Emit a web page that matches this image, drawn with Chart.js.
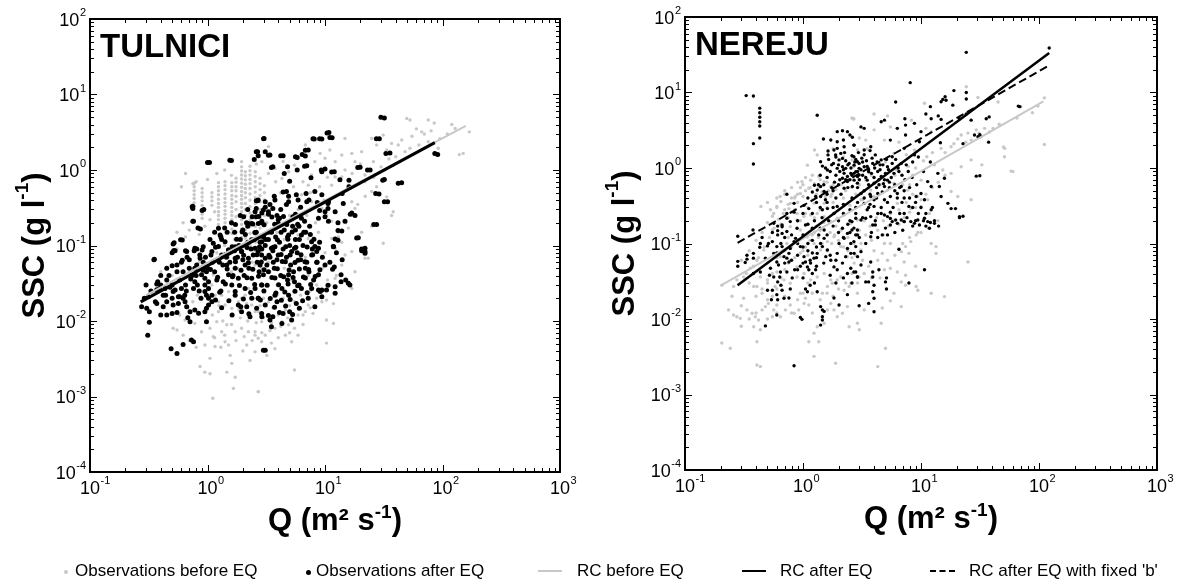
<!DOCTYPE html>
<html lang="en">
<head>
  <meta charset="UTF-8" />
  <title>SSC - Q rating curves, Tulnici and Nereju</title>
  <script src="https://cdn.jsdelivr.net/npm/chart.js"></script>
  <style>
    body { margin: 0; background: #fff; width: 1177px; height: 586px; overflow: hidden; position: relative;
           font-family: "Liberation Sans", Arial, sans-serif; color: #000; }
    canvas { position: absolute; top: 0; }
    #cLeft { left: 0; }
    #cRight { left: 590px; }
    .lg-text { position: absolute; top: 561px; font-size: 17px; line-height: 20px; white-space: nowrap; }
    .lg-mark { position: absolute; }
  </style>
</head>
<body>

  <canvas id="cLeft" width="590" height="586"></canvas>
  <canvas id="cRight" width="587" height="586"></canvas>

  <!-- legend shared by both panels -->
  <div id="legend"></div>

  <script>
    // axis decades (10^n)
    const xTickExps = [-1, 0, 1, 2, 3];
    const yTickExps = [-4, -3, -2, -1, 0, 1, 2];
    const panelNames = ['TULNICI', 'NEREJU'];
    const legendLabels = ['Observations before EQ', 'Observations after EQ', 'RC before EQ', 'RC after EQ', "RC after EQ with fixed 'b'"];

    // TULNICI: [Q, SSC]
    const tulBefore = [
      [0.77,0.67],[0.77,0.6],[0.77,0.53],[0.77,0.47],[0.77,0.42],[0.77,0.37],[0.77,0.33],
      [0.9,0.57],[0.9,0.5],[0.9,0.44],[0.9,0.39],[0.9,0.34],[0.9,0.3],[0.9,0.26],[0.9,0.23],
      [1.09,0.5],[1.09,0.44],[1.09,0.39],[1.09,0.34],
      [1.24,0.68],[1.24,0.6],[1.24,0.53],[1.24,0.47],[1.24,0.41],[1.24,0.36],[1.24,0.32],[1.24,0.28],[1.24,0.25],[1.24,0.22],[1.24,0.19],
      [1.41,0.7],[1.41,0.62],[1.41,0.55],[1.41,0.48],[1.41,0.42],[1.41,0.37],[1.41,0.33],[1.41,0.29],[1.41,0.26],[1.41,0.23],[1.41,0.2],
      [1.61,0.68],[1.61,0.6],[1.61,0.53],[1.61,0.46],[1.61,0.41],[1.61,0.36],[1.61,0.32],[1.61,0.28],[1.61,0.25],[1.61,0.22],[1.61,0.19],[1.61,0.165],[1.61,0.145],
      [1.75,0.78],[1.75,0.69],[1.75,0.6],[1.75,0.53],[1.75,0.45],[1.75,0.38],[1.75,0.3],[1.75,0.24],[1.75,0.19],[1.75,0.15],[1.75,0.124],
      [1.95,1.1],[1.95,0.97],[1.95,0.86],[1.95,0.76],[1.95,0.67],[1.95,0.59],[1.95,0.52],[1.95,0.46],[1.95,0.41],[1.95,0.36],[1.95,0.32],[1.95,0.28],[1.95,0.25],[1.95,0.22],[1.95,0.19],[1.95,0.165],[1.95,0.145],[1.95,0.128],
      [2.1,0.95],[2.1,0.84],[2.1,0.74],[2.1,0.65],[2.1,0.57],[2.1,0.5],[2.1,0.43],[2.1,0.36],[2.1,0.3],[2.1,0.25],[2.1,0.2],[2.1,0.16],[2.1,0.125],
      [2.3,1.12],[2.3,0.98],[2.3,0.86],[2.3,0.75],[2.3,0.66],[2.3,0.57],[2.3,0.48],[2.3,0.4],[2.3,0.33],[2.3,0.27],[2.3,0.22],[2.3,0.18],[2.3,0.145],[2.3,0.115],[2.3,0.1],
      [2.55,0.95],[2.55,0.82],[2.55,0.7],[2.55,0.6],[2.55,0.51],[2.55,0.43],[2.55,0.36],[2.55,0.29],[2.55,0.23],[2.55,0.18],[2.55,0.14],[2.55,0.11],[2.55,0.085],
      [2.8,0.78],[2.8,0.66],[2.8,0.55],[2.8,0.46],[2.8,0.38],[2.8,0.3],[2.8,0.23],[2.8,0.17],[2.8,0.13],[2.8,0.1],
      [3.05,0.62],[3.05,0.5],[3.05,0.4],[3.05,0.32],[3.05,0.25],
      [0.75,0.66],[0.62,0.2],[0.55,0.15],[1.95,1.29],[0.65,0.9],[0.8,0.7],
      [3.3,2.04],[2.9,1.29],[3.75,1.05],[4.3,0.77],[4.9,0.95],[5.5,1.16],[6.3,1.58],[6.8,2.14],[7.7,0.86],[8.2,1.29],
      [9.1,1.66],[10,1.43],[11,1.84],[12.2,1.29],[13.9,1.58],[14.8,2.62],[16.9,1.66],[18,1.29],[20.5,1.75],[21.9,0.86],
      [25,2.62],[25.8,1.29],[27.5,2.14],[31.3,2.9],[33.5,1.84],[36.9,2.25],[38.1,1.16],[42,2.14],[49.6,4.8],[52.9,4.6],
      [48,1.75],[52.9,1.94],[63,2.14],[66.5,3.2],[75.7,4.6],[75.7,2.37],[92,1.94],[128,3.55],[150,1.66],[169,3.2],[139,1.6],
      [21.9,0.7],[25,0.52],[27.5,0.6],[33.5,0.44],[38.1,0.28],[36.9,0.25],[31.3,0.107],[25,0.18],[20.5,0.15],[16.9,0.38],
      [18,0.31],[13,0.47],[11.4,0.63],[15.8,0.63],[13.9,0.81],[14.8,1.0],[12.2,0.81],[7.2,0.63],[6.3,0.47],[7.7,0.38],
      [9.4,0.31],[10.3,0.25],[11.4,0.21],[15.8,0.17],[13.9,0.11],[11.4,0.124],[13,0.15],[8.8,0.15],[7.2,0.124],[5.9,0.138],
      [0.55,0.0076],[0.51,0.008],[0.644,0.0103],[0.78,0.0093],[0.89,0.0072],[1.05,0.008],[1.12,0.0062],[1.16,0.0046],[1.2,0.0098],[1.32,0.0072],
      [1.41,0.0053],[1.51,0.0048],[1.56,0.0035],[1.61,0.00275],[0.95,0.0048],[1.05,0.0032],[0.865,0.0025],[0.95,0.0021],[1.05,0.002],[1.46,0.0021],
      [1.72,0.0018],[1.66,0.00128],[2.71,0.00116],[1.11,0.00095],[1.95,0.008],[2.23,0.0072],[2.54,0.0065],[2.89,0.0053],[2.54,0.0039],[2.16,0.0048],
      [1.72,0.0072],[1.46,0.0089],[1.24,0.0133],[1.41,0.0163],[1.61,0.0147],[1.83,0.018],[2.09,0.022],[2.38,0.0163],[2.71,0.0133],[2.89,0.0098],
      [1.32,0.022],[1.51,0.0245],[1.61,0.03],[1.83,0.03],[1.95,0.02],[2.23,0.027],[2.54,0.0133],[1.24,0.018],[1.16,0.022],[1.09,0.03],
      [1.12,0.041],[2.54,0.055],[2.89,0.05],
      [2.54,0.0072],[2.7,0.0059],[3.1,0.0065],[3.75,0.008],[4.3,0.0098],[4.9,0.0089],[5.5,0.008],[5.9,0.012],[6.8,0.0133],[7.2,0.0163],
      [7.9,0.0126],[9.4,0.018],[10.3,0.019],[11.8,0.017],[10.3,0.0103],[11.8,0.0093],[10.3,0.0051],[12.2,0.092],[14.8,0.075],[16.9,0.083],
      [18,0.045],[21.9,0.068],[23.3,0.068],[13.9,0.055],[16.9,0.027],[12.2,0.0367],[5.5,0.00224],[2.7,0.00116],[3.75,0.0043],[3.5,0.0051],
      [4.6,0.0065],[5.2,0.0053],[5.9,0.0065],
      [1.3,0.06],[1.5,0.07],[1.8,0.05],[2.1,0.04],[2.4,0.06],[1.6,0.045],[1.2,0.08],[1.0,0.05],[0.85,0.06],[0.7,0.045],
      [0.6,0.035],[3.3,0.06],[3.8,0.1],[4.5,0.12],[1.4,0.1],[1.7,0.12],[2.2,0.09],[0.4,0.045],[0.45,0.03],[0.5,0.04],[0.35,0.025],
      [3.2,0.2],[3.5,0.3],[3.9,0.15],[4.2,0.5],[4.6,0.35],[5.0,0.25],[5.4,0.6],[5.9,0.3],[6.5,0.7],[7.0,0.25],
      [7.5,0.5],[8.3,0.2],[9.0,0.6],[9.8,0.4],[10.5,0.8],[3.4,0.045],[3.9,0.03],[4.5,0.05],[5.2,0.035],[6.0,0.05],
      [6.8,0.07],[7.5,0.025],[8.5,0.03],[9.5,0.05],[10.5,0.035],[3.0,0.02],[3.6,0.015],[4.4,0.02],[5.0,0.016],[6.2,0.022],
      [1.2,0.9],[1.4,1.0],[1.6,0.85],[1.0,0.75],[2.6,1.2],[3.3,0.9],[3.8,0.7],[4.4,1.3],[0.6,0.6],[0.55,0.09],
      [0.65,0.13],[0.7,0.16],[0.85,0.14],[0.95,0.18],[1.05,0.22],[1.15,0.28],[0.62,0.0065],[0.7,0.0055],[0.8,0.0045],[0.58,0.012],
      [0.68,0.015],[0.75,0.018],[0.82,0.022],[1.3,0.0045],[2.0,0.004],[2.3,0.003],[3.2,0.0035],[4.0,0.006],[5.0,0.007],[6.5,0.009],
      [1.1,0.012],[1.35,0.01],[1.6,0.009],[1.9,0.011],[2.2,0.01],[2.6,0.0095],[3.0,0.011],[3.5,0.0095],[4.0,0.012],[4.8,0.011],
      [1.25,0.016],[1.55,0.019],[1.85,0.014],[2.15,0.017],[2.45,0.02],[2.8,0.016],[3.3,0.018],[3.9,0.022],[4.6,0.014],[5.5,0.018],
      [1.15,0.006],[1.4,0.0065],[1.75,0.0055],[2.05,0.0062],[2.4,0.0055],[2.9,0.007],[3.4,0.0075],[4.2,0.0085],[5.2,0.01],[6.5,0.012],
      [7.5,0.015],[8.5,0.02],[9.5,0.025],[11,0.03],[12.5,0.04],[6.2,0.03],[7.2,0.04],[8.8,0.06],[10,0.08],[11.5,0.1],
      [13,0.13],[15,0.2],[17,0.25],[19,0.35],[22,0.45],[26,0.8],[30,1.1],[35,1.4],[40,1.5],[45,2.5],
      [55,2.8],[60,3.5],[70,3.0],[80,3.3],[95,2.6],[110,3.0],[120,4.0],[85,4.2],[17,0.9],[20,1.2]
    ];
    const tulAfter = [
      [29.9,4.98],[10.4,3.1],[11,2.7],[7.9,2.6],[9,2.6],[3.0,2.6],[27.4,2.6],[2.6,1.74],[3.3,1.57],[4.2,1.54],
      [5.6,1.5],[6.4,1.6],[6.8,1.83],[33,1.66],[86,1.66],[1.0,1.26],[1.55,1.35],[3.5,1.08],[4.8,1.1],[6.7,1.12],
      [9.3,1.0],[11.4,0.94],[19,1.08],[23,1.0],[31,0.73],[42,0.67],[27,0.49],[32,0.38],[26,0.19],[18.6,0.126],
      [20.5,0.09],[20.5,0.085],[16,0.73],[16,0.6],[14,0.49],[6.9,0.49],[7.3,0.4],[4.4,0.51],[4.9,0.45],[4.7,0.35],
      [6.2,0.32],[5.6,0.26],[9,0.29],[8.6,0.37],[10,0.24],[10.7,0.21],[16.4,0.26],[12.9,0.2],[12.9,0.158],[12.9,0.117],
      [10.6,0.36],[10.6,0.31],[3.6,0.31],[3.9,0.25],[4.0,0.22],[2.6,0.39],[2.6,0.31],[2.6,0.24],[3.1,0.32],[3.3,0.26],
      [2.9,0.2],[4.0,0.195],[2.15,0.2],[2.2,0.18],[2.0,0.16],[4.8,0.13],[5.6,0.16],[6.0,0.18],[6.7,0.21],[0.75,0.33],
      [0.75,0.31],[0.9,0.29],[0.75,0.21],[0.83,0.17],[0.59,0.119],[0.51,0.105],[0.35,0.065],[0.37,0.031],[0.5,0.054],[0.5,0.08],
      [0.53,0.085],[0.67,0.07],[0.77,0.085],[0.9,0.087],
      [0.353,0.0656],[0.52,0.085],[0.61,0.064],[0.665,0.083],[0.78,0.092],[0.377,0.033],[0.37,0.026],[0.314,0.021],[0.29,0.02],[0.275,0.0155],
      [0.32,0.0133],[0.304,0.0147],[0.32,0.0096],[0.31,0.0065],[0.37,0.017],[0.42,0.0155],[0.45,0.018],[0.45,0.012],[0.5,0.0126],[0.51,0.0163],
      [0.39,0.027],[0.435,0.027],[0.45,0.035],[0.51,0.0245],[0.53,0.0258],[0.58,0.021],[0.62,0.02],[0.64,0.022],[0.49,0.0043],[0.55,0.0037],
      [0.62,0.0049],[0.73,0.0056],[0.76,0.0053],[0.71,0.0133],[0.78,0.014],[0.84,0.0127],[0.71,0.0098],
      [0.89,0.041],[0.95,0.03],[0.95,0.0245],[1.02,0.02],[1.02,0.0163],[0.98,0.0147],[1.09,0.018],[0.95,0.0133],[0.98,0.0098],[1.02,0.033],
      [0.95,0.0367],[0.98,0.022],[1.09,0.022],[1.02,0.027],[0.98,0.045],[1.0,0.05],
      [0.81,0.055],[0.865,0.068],[0.92,0.047],[0.78,0.033],[0.76,0.027],[0.6,0.027],[0.565,0.021],[0.644,0.018],[0.665,0.0155],[0.565,0.017],
      [1.32,0.075],[1.46,0.055],[1.51,0.041],[1.61,0.03],[1.36,0.033],[1.72,0.022],[1.83,0.0163],[1.95,0.0133],[2.16,0.0155],[2.3,0.0114],
      [2.38,0.0367],[2.54,0.027],[2.71,0.02],[2.8,0.055],[2.89,0.0126],[2.99,0.0041],
      [1.24,0.097],[1.51,0.087],[1.72,0.068],[1.95,0.083],[2.09,0.055],[2.23,0.068],[2.54,0.092],[2.89,0.075],[1.83,0.0367],[2.09,0.027],
      [2.38,0.02],[2.89,0.03],[2.99,0.041],[1.72,0.05],
      [11.8,0.097],[12,0.052],[13.7,0.041],[13.7,0.033],[15.8,0.0316],[16.3,0.03],[12.2,0.0285],[12.2,0.0233],[10.3,0.0258],[9.4,0.0258],
      [8.8,0.0258],[9.4,0.021],[8.2,0.0155],[7.2,0.02],[5.7,0.017],[5.0,0.0133],[4.4,0.0126],[3.9,0.018],[3.6,0.0114],[3.4,0.0103],
      [3.5,0.0084],[2.9,0.0114],[3.1,0.0041],[4.3,0.0093],[5.2,0.0103],[21.9,0.092],[21.9,0.079],
      [2.7,0.083],[3.1,0.068],[3.5,0.092],[4.0,0.075],[4.6,0.061],[5.2,0.083],[5.9,0.064],[6.8,0.05],[7.7,0.075],[3.3,0.045],
      [3.75,0.037],[2.9,0.03],[4.3,0.027],[4.9,0.041],[5.5,0.033],[6.3,0.027],[2.7,0.02],[3.1,0.0163],[3.75,0.022],[4.9,0.022],
      [6.8,0.037],[7.7,0.027],[8.8,0.041],[10,0.055],[8.2,0.097],
      [1.04,1.26],[1.6,1.34],[3.03,2.62],[2.67,1.75],[2.5,1.38],[0.74,0.327],[0.93,0.3],[0.76,0.21],[0.87,0.165],[0.52,0.109],
      [0.61,0.118],[0.515,0.085],[0.65,0.085],[0.81,0.09],[0.92,0.096],[1.24,0.169],[1.28,0.138],[1.12,0.107],[1.09,0.083],[1.41,0.112],
      [1.51,0.087],[1.72,0.096],[1.95,0.083],[2.23,0.196],[2.38,0.196],[2.71,0.196],[2.54,0.28],[2.67,0.39],[2.99,0.295],
      [3.1,1.75],[2.7,1.55],[3.4,1.58],[4.4,1.55],[5.8,1.46],[6.8,1.53],[7.2,1.84],[8.1,2.57],[9.4,2.57],[10.8,3.15],
      [11.5,2.68],[32,4.9],[29,2.6],[35.7,1.68],[91,1.61],[3.6,1.1],[4.5,0.9],[5.0,0.71],[5.8,1.0],[7.0,1.14],
      [7.6,0.79],[9.4,0.95],[10,1.03],[12,0.95],[13.4,0.74],[19.9,1.09],[24.2,1.0],[32,0.75],[44.9,0.68],[28.8,0.48],
      [34.1,0.38],[27.5,0.19],[19.2,0.127],[21.9,0.083],[12.2,0.122],[13.9,0.156],[11.8,0.096],[8.8,0.092],[4.7,0.52],[5.7,0.47],
      [5.9,0.4],[7.0,0.38],[8.2,0.52],[9.4,0.47],[10,0.28],[10.7,0.38],[8.8,0.23],[12.2,0.28],[14.3,0.36],[16.9,0.27],
      [18,0.25],[14.8,0.21],[6.3,0.23],[7.4,0.18],[4.9,0.38],[3.75,0.4],[4.1,0.23],[3.1,0.38],[2.7,0.4],[3.3,0.28],
      [2.9,0.21],[3.5,0.152],[4.9,0.138],[6.3,0.138],[7.7,0.112],[8.5,0.083],[3.75,0.096],[5.5,0.092],[2.9,0.112],
      [1.1,0.06],[1.15,0.045],[1.2,0.035],[1.3,0.025],[1.35,0.055],[1.45,0.07],[1.55,0.06],[1.65,0.04],[1.7,0.085],[1.8,0.07],
      [1.85,0.1],[1.9,0.12],[2.0,0.065],[2.05,0.04],[2.1,0.14],[2.2,0.11],[2.25,0.05],[2.35,0.09],[2.45,0.075],[2.5,0.12],
      [2.6,0.15],[2.65,0.06],[2.75,0.045],[2.8,0.11],[2.9,0.09],[3.0,0.13],[3.1,0.1],[3.2,0.055],[3.3,0.12],[3.4,0.07],
      [3.5,0.15],[3.6,0.085],[3.7,0.05],[3.8,0.13],[3.9,0.065],[4.1,0.11],[4.2,0.04],[4.4,0.09],[4.5,0.16],[4.7,0.07],
      [4.8,0.035],[5.0,0.1],[5.1,0.055],[5.3,0.18],[5.4,0.045],[5.6,0.12],[5.8,0.08],[6.0,0.03],[6.2,0.065],[6.5,0.1],
      [6.6,0.15],[7.0,0.06],[7.3,0.045],[7.5,0.14],[7.8,0.09],[8.0,0.035],[8.5,0.06],[9.0,0.11],[9.5,0.07],[11,0.06],
      [12.5,0.08],[14,0.065],[15,0.035],[1.05,0.12],[1.15,0.15],[1.3,0.13],[1.4,0.17],[1.6,0.2],[1.7,0.15],[1.9,0.25],
      [2.2,0.3],[2.4,0.24],[2.9,0.27],[3.4,0.35],[3.7,0.45],[4.2,0.3],[0.4,0.04],[0.45,0.05],[0.55,0.045],[0.6,0.06],
      [0.7,0.05],[0.72,0.036],[0.8,0.04],[0.85,0.025],[0.65,0.03],[0.42,0.022],[0.48,0.028],[0.88,0.02],[0.92,0.06],[0.96,0.07],
      [1.62,0.012],[2.25,0.0125],[3.3,0.0118],[4.1,0.013],[5.3,0.0122],[1.32,0.015],[1.92,0.0155],[2.62,0.0148],[3.72,0.0152],[4.62,0.0158],
      [6.05,0.0148],[1.17,0.019],[1.52,0.0185],[2.02,0.0195],[2.82,0.019],[3.42,0.0198],[4.25,0.0188],[5.05,0.0192],[6.45,0.0185],[1.27,0.024],
      [1.72,0.0245],[2.33,0.0238],[3.02,0.025],[3.82,0.0235],[4.55,0.0242],[5.55,0.0248],[7.05,0.0236],[9.1,0.0245],[1.42,0.031],[1.87,0.0295],
      [2.52,0.0305],[3.22,0.0298],[4.03,0.0302],[4.85,0.031],[5.85,0.0294],[7.55,0.0305],[10.6,0.0298],[1.22,0.038],[1.63,0.0385],[2.17,0.0375],
      [2.72,0.039],[3.53,0.0378],[4.45,0.0385],[5.35,0.0376],[6.55,0.0382],[8.25,0.0388],[1.06,0.048],[1.47,0.049],[1.93,0.047],[2.43,0.0485],
      [3.03,0.0478],[3.93,0.0492],[4.95,0.0475],[6.05,0.0488],[7.25,0.0482],[9.05,0.0479],[11.6,0.0486],[1.26,0.06],[1.73,0.061],[2.23,0.059],
      [2.87,0.0605],[3.63,0.0598],[4.33,0.0612],[5.55,0.0595],[6.75,0.0608],[8.55,0.06],[1.07,0.075],[1.42,0.076],[2.03,0.074],[2.63,0.0755],
      [3.33,0.0745],[4.23,0.0762],[5.05,0.0748],[6.25,0.0756],[7.85,0.0752],[1.17,0.095],[1.62,0.096],[2.17,0.094],[2.77,0.0955],[3.63,0.0945],
      [4.63,0.0962],[5.65,0.0948],[7.05,0.0958],[1.32,0.12],[1.77,0.121],[2.37,0.119],[3.13,0.1205],[3.93,0.1195],[4.83,0.1212],[6.05,0.1198],
      [8.05,0.1208],[1.47,0.15],[1.97,0.152],[2.53,0.149],[3.33,0.1515],[4.23,0.1495],[5.25,0.1508],[6.85,0.1502],[1.73,0.19],[2.43,0.192],
      [3.03,0.189],[3.73,0.1915],[4.73,0.1895],[5.85,0.1905],[2.03,0.24],[2.73,0.242],[3.53,0.238],[4.43,0.2415],[5.33,0.2395],
      [0.33,0.025],[0.36,0.018],[0.4,0.03],[0.44,0.022],[0.47,0.04],[0.5,0.03],[0.55,0.055],[0.58,0.035],[0.62,0.045],[0.66,0.025],
      [0.7,0.065],[0.74,0.04],[0.78,0.05],[0.82,0.03],[0.86,0.075],[0.4,0.012],[0.55,0.013],[0.68,0.011],[0.3,0.03],[0.5,0.02]
    ];
    const tulRcBefore = [[0.3, 0.022], [158, 3.83]];
    const tulRcAfter = [[0.27, 0.0179], [86, 2.3]];

    // NEREJU: [Q, SSC]
    const nerBefore = [
      [2.67,4.46],[1.09,1.09],[1.25,1.73],[1.32,1.49],[0.98,0.66],[1.16,0.69],[1.36,0.77],[1.12,0.54],[0.95,0.46],[0.86,0.42],
      [0.78,0.34],[0.64,0.42],[0.6,0.31],[0.53,0.28],[0.44,0.31],[0.565,0.25],[0.76,0.29],[0.89,0.25],[1.05,0.25],[1.24,0.34],
      [1.51,0.34],[1.72,0.42],[1.72,0.57],[1.51,0.66],
      [24.2,11.9],[30.4,8.6],[2.7,4.5],[5.2,4.9],[10.7,7.2],[8.3,4.3],[45,7.5],[70,6.5],[11,3.35],[12.2,3.03],
      [4,3.2],[4.9,2.34],[3.4,2.34],[5.9,1.56],[8.8,1.73],[11.2,1.41],[14.8,1.82],[18,1.91],[20.5,2.43],[21.9,2.73],
      [25,2.9],[29.4,3.2],[34.6,3.35],[40.8,3.35],[51.2,1.82],[60,0.9],[51,1.41],[32.8,1.1],[26.6,1.28],[21.9,1.04],
      [18,0.85],[15.3,0.94],[13,1.1],[10,0.69],[7.7,0.51],[9.4,0.42],[11.4,0.38],[8.2,0.29],[10,0.31],[11.8,0.25],
      [13.9,0.2],[6.3,0.34],[5.2,0.51],[3.75,0.51],[3.1,0.38],[5.9,0.63],[20.5,0.42],[26.6,0.38],[18,0.49],[26.6,2.34],
      [2.7,1.04],[2.6,1.28],[2.9,1.73],
      [0.205,0.028],[0.258,0.027],[0.234,0.0132],[0.258,0.0113],[0.275,0.0107],[0.294,0.0102],[0.242,0.0041],[0.205,0.0048],[0.314,0.0188],[0.335,0.0132],
      [0.37,0.0119],[0.394,0.0107],[0.42,0.0097],[0.382,0.0079],[0.435,0.0072],[0.407,0.005],[0.407,0.00246],[0.435,0.00234],[0.45,0.0132],[0.48,0.0146],
      [0.51,0.0161],[0.565,0.0132],[0.6,0.0153],[0.55,0.0107],[0.644,0.0107],[0.71,0.0132],[0.78,0.0153],[0.84,0.0119],[0.92,0.0132],[1.02,0.0161],
      [1.12,0.0153],[1.12,0.005],[1.24,0.0032],[1.36,0.005],[1.24,0.0065],[1.32,0.0079],[1.51,0.0088],[1.61,0.0132],[1.72,0.0161],[1.83,0.0132],
      [1.95,0.0107],[2.16,0.0119],[2.38,0.0146],[2.46,0.0079],[2.89,0.0088],[1.89,0.0026],[2.23,0.024],[2.54,0.0297],[2.89,0.0219],[2.99,0.036],
      [0.407,0.027],[0.45,0.0219],[0.5,0.033],[0.58,0.027],[0.69,0.033],[0.78,0.0297],[0.89,0.036],[0.95,0.0219],[1.05,0.0188],[1.2,0.0219],
      [1.46,0.0219],[1.61,0.027],[1.77,0.0297],[1.95,0.033],[2.46,0.027],
      [0.89,0.205],[1.02,0.227],[1.16,0.239],[1.32,0.25],[1.51,0.227],[1.72,0.195],[1.95,0.216],[2.23,0.239],[2.54,0.185],[2.89,0.205],
      [0.95,0.151],[1.09,0.123],[1.24,0.1],[1.41,0.082],[1.61,0.106],[1.83,0.123],[2.09,0.091],[2.38,0.067],[2.71,0.055],[3.09,0.082],
      [0.78,0.06],[0.89,0.049],[1.02,0.04],[1.16,0.033],[1.32,0.036],[1.51,0.04],[1.72,0.033],[2.09,0.036],[0.73,0.1],[0.6,0.042],
      [0.5,0.055],[0.465,0.082],[0.407,0.06],[0.358,0.047],[0.435,0.036],[0.314,0.036],[0.275,0.033],[0.382,0.027],[0.644,0.067],[0.55,0.151],
      [0.78,0.167],
      [0.7,0.45],[0.8,0.4],[0.9,0.35],[1.0,0.42],[1.1,0.3],[1.2,0.38],[1.3,0.45],[0.85,0.28],[0.95,0.2],[1.1,0.18],
      [1.25,0.22],[1.4,0.28],[0.75,0.22],[0.65,0.18],[1.6,0.3],[1.8,0.35],[2.0,0.28],[2.2,0.4],[2.5,0.32],[2.8,0.45],
      [3.2,0.38],[3.6,0.55],[4.0,0.42],[4.5,0.6],
      [2.6,4.6],[4.0,5.2],[5.5,3.5],[3.0,2.5],[3.5,1.8],[2.2,1.4],[1.8,1.8],[6.5,2.2],[7.5,1.5],[9,1.0],
      [8,0.6],[6,0.8],[5,1.2],[111,2.05],[58,0.91],[50,1.9],[111,8.5],
      [6.2,0.95],[7.8,1.05],[10.5,1.25],[12.5,1.6],[16,1.6],[19,2.1],[24,2.2],[31,2.9],[38,3.0],[46,3.8],
      [65,4.6],[88,5.4],[98,6.6],
      [25,0.057],[15.8,0.0198],[12.2,0.0219],[13.4,0.074],[13.4,0.091],[12.2,0.1],[9.1,0.13],[9.4,0.14],[8.2,0.106],[7.4,0.091],
      [6.8,0.078],[7.9,0.074],[7.2,0.057],[6.8,0.031],[7.4,0.028],[9.1,0.027],[9.4,0.024],[5.9,0.0219],[5.5,0.0174],[6.8,0.0146],
      [4.7,0.014],[3.3,0.0132],[3.0,0.0072],[4.6,0.0088],[5.0,0.0041],[4.3,0.00234],[4.9,0.045],[5.5,0.047],[4.7,0.074],[4.3,0.06],
      [4.9,0.1],[5.5,0.1],[6.3,0.042],[7.4,0.038],
      [0.3,0.06],[0.35,0.08],[0.4,0.11],[0.45,0.14],[0.5,0.19],[0.55,0.23],[0.6,0.3],[0.65,0.36],[0.7,0.28],[0.75,0.33],
      [0.8,0.26],[0.85,0.4],[0.9,0.45],[0.95,0.55],[1.0,0.6],[1.05,0.5],[1.15,0.55],[1.25,0.62],[1.35,0.55],[1.45,0.48],
      [1.55,0.42],[1.65,0.5],[1.75,0.45],[1.9,0.52],[2.1,0.6],[2.3,0.5],[2.6,0.55],[3.0,0.6],[3.4,0.7],[3.8,0.8],
      [0.35,0.03],[0.4,0.02],[0.5,0.018],[0.55,0.04],[0.6,0.065],[0.7,0.08],[0.75,0.12],[0.8,0.09],[0.9,0.11],[1.0,0.08],
      [1.1,0.07],[1.2,0.13],[1.3,0.17],[1.4,0.15],[1.5,0.19],[1.7,0.14],[1.9,0.17],[2.1,0.15],[2.4,0.12],[2.7,0.1],
      [3.0,0.15],[3.3,0.2],[3.7,0.17],[4.2,0.22],[4.8,0.2],[5.5,0.25],[6.5,0.28],[7.5,0.35],[8.5,0.45],[3.2,0.06],
      [3.6,0.05],[4.0,0.08],[4.5,0.035],[5.2,0.06],[6.0,0.07],[7.0,0.1],[8.0,0.12],[10,0.14],[11.5,0.16],[9,0.05],
      [0.25,0.02],[0.3,0.015],[0.33,0.04],[0.38,0.05],[0.42,0.065],[0.47,0.09],[0.52,0.12],[0.57,0.16],[0.62,0.21],[0.68,0.25],
      [0.45,0.025],[0.5,0.03],[0.55,0.02],[0.6,0.025],[0.65,0.035],[0.7,0.045],[0.75,0.055],[0.85,0.065],[0.95,0.075],[1.05,0.09],
      [1.15,0.11],[1.25,0.14],[1.35,0.12],[1.45,0.1],[1.6,0.08],[1.75,0.1],[1.85,0.13],[2.0,0.11],[2.2,0.09],[2.4,0.08],
      [2.6,0.065],[2.8,0.07],[3.1,0.1],[3.4,0.13],[3.8,0.11],[4.3,0.15],[4.8,0.13],[5.3,0.17],[5.8,0.2],[6.5,0.18],
      [7.2,0.22],[8.0,0.26],[9.0,0.3],[10,0.38],[11,0.45],[12.5,0.55],[14,0.65],[16,0.8],[7,0.6],[8.5,0.8],
      [0.5,0.35],[0.6,0.4],[0.7,0.5],[0.8,0.55],[0.9,0.65],[1.05,0.75],[1.2,0.8],[1.4,0.7],[1.6,0.65],[1.8,0.6],
      [1.2,0.012],[1.4,0.018],[1.6,0.022],[1.8,0.02],[2.0,0.025],[2.3,0.03],[2.6,0.04],[2.9,0.03],[3.3,0.04],[3.8,0.035],
      [0.8,0.012],[0.9,0.018],[1.0,0.022],[1.1,0.03],[0.7,0.02],[0.6,0.012],[0.5,0.01],[0.4,0.012],[0.35,0.01],[0.3,0.008]
    ];
    const nerAfter = [
      [0.33,9.1],[0.38,9.0],[0.43,6.2],[0.43,5.4],[0.43,4.7],[0.43,4.1],[0.43,3.6],[0.43,2.5],[0.38,2.1],[0.38,1.13],
      [1.32,5.0],[1.95,3.03],[2.16,3.12],[2.38,3.03],[2.5,2.73],[2.62,2.55],[1.49,2.42],[1.72,2.35],[1.95,2.23],[2.2,2.35],
      [2.71,2.01],[1.63,1.68],[1.63,1.49],[1.83,1.73],[1.95,1.82],[1.89,1.49],[2.09,1.56],[2.23,1.91],[2.16,1.34],[2.02,1.28],
      [1.41,1.21],[1.46,1.06],[1.61,0.94],[1.81,1.15],[1.95,0.99],[2.16,1.04],[2.3,0.99],[2.46,1.15],[2.71,1.09],[2.89,1.21],
      [2.99,0.99],[2.23,0.85],[2.38,0.77],[2.54,0.85],[2.8,0.89],[2.99,0.81],[2.16,0.73],[2.38,0.66],[2.71,0.69],[2.89,0.63],
      [2.62,0.57],[2.23,0.54],[1.25,0.59],[1.32,0.51],[1.41,0.57],[1.28,0.42],[1.41,0.42],[1.51,0.49],[0.73,0.45],[0.84,0.34],
      [0.73,0.25],[0.84,0.26],[1.02,0.32],[1.12,0.29],[1.46,0.28],[1.61,0.29],[1.83,0.25],[1.95,0.31],
      [24.2,34],[8.1,13.5],[19,10.6],[24.2,10],[24.2,8.2],[14.8,7.55],[15.3,8.1],[16,8.8],[16.3,7.9],[18.6,6.8],
      [6.1,7.5],[12,6.5],[11,5.2],[12.2,4.5],[14,4.9],[14.8,4.4],[7.3,4.5],[21.2,4.5],[24.2,5.2],[26.6,4.3],
      [35.7,4.5],[68.7,6.5],[3.1,3.5],[3.3,3.35],[4.6,4.1],[4.9,4.3],[6.3,3.35],[7.4,3.7],[8.8,3.9],[10,3.03],
      [7.4,2.73],[14.6,2.16],[2.7,2.01],[3.3,1.73],[3.75,1.91],[5.5,2.34],[7.2,1.82],[8.8,1.49],[9.7,2.23],[28.4,2.73],
      [30.4,2.6],[37.4,2.2],[29.4,0.78],[18,0.29],[21.2,0.22],[14.3,0.57],[15.8,0.73],[13.9,0.85],[12.2,0.57],[11.4,0.66],
      [10,0.46],[9.1,0.42],[10.7,0.38],[7.9,0.31],[7.2,0.25],[5.5,0.26],[12.2,0.28],[14.8,0.42],[16.9,0.34],
      [2.7,1.41],[2.99,1.15],[3.3,1.04],[3.6,0.89],[2.9,0.77],[3.5,0.69],[4.0,0.63],[4.6,0.77],[5.2,0.69],[4.9,0.57],
      [4.3,0.46],[3.75,0.42],[3.1,0.46],[3.3,0.34],[4.0,0.31],[4.9,0.38],[5.5,0.42],[6.3,0.46],[6.8,0.57],[5.9,0.85],
      [5.2,1.04],[4.6,1.28],[4.1,1.49],[5.7,1.41],[6.8,1.15],[2.8,0.25],[3.5,0.28],[4.6,0.25],[5.5,0.215],[7.2,0.195],
      [0.28,0.125],[0.28,0.058],[0.28,0.05],
      [0.377,0.151],[0.435,0.1],[0.43,0.089],[0.38,0.074],[0.38,0.064],[0.335,0.07],[0.335,0.062],[0.324,0.056],[0.38,0.04],[0.435,0.042],
      [0.5,0.093],[0.55,0.106],[0.565,0.074],[0.61,0.17],[0.61,0.148],[0.61,0.13],[0.665,0.167],[0.665,0.136],[0.73,0.144],[0.6,0.091],
      [0.665,0.091],[0.69,0.067],[0.6,0.057],[0.62,0.052],[0.53,0.047],[0.48,0.064],[0.52,0.038],[0.565,0.036],[0.644,0.042],[0.635,0.036],
      [0.61,0.031],[0.65,0.028],[0.665,0.024],[0.6,0.021],[0.55,0.024],[0.5,0.024],[0.54,0.018],[0.61,0.018],[0.69,0.0188],[0.76,0.019],
      [0.78,0.025],[0.81,0.035],[0.73,0.042],[0.76,0.057],[0.73,0.064],[0.76,0.074],[0.78,0.086],[0.84,0.106],[0.865,0.117],[0.95,0.091],
      [1.02,0.067],[1.05,0.057],[1.09,0.049],[1.12,0.045],[1.2,0.04],[1.28,0.045],[1.16,0.055],[1.24,0.064],[1.32,0.074],[1.41,0.1],
      [1.51,0.117],[1.46,0.091],[1.61,0.082],[1.56,0.067],[1.72,0.06],[1.83,0.049],[1.95,0.045],[2.16,0.055],[2.3,0.067],[2.38,0.086],
      [2.54,0.1],[2.8,0.13],[2.89,0.151],[2.71,0.074],[2.54,0.047],[2.38,0.04],[2.8,0.042],[2.89,0.036],[1.95,0.074],[2.02,0.1],
      [2.23,0.117],[2.38,0.136],[2.16,0.159],[1.51,0.151],[1.36,0.13],[1.2,0.159],[1.05,0.176],[0.89,0.159],[0.78,0.195],[0.73,0.216],
      [0.665,0.176],[0.565,0.185],[0.51,0.1],
      [0.6,0.0113],[0.95,0.0105],[0.98,0.0099],[0.48,0.0081],[1.41,0.0146],[1.46,0.0132],[1.51,0.0126],[1.46,0.0107],[1.46,0.0097],[1.41,0.0083],
      [0.84,0.0024],[1.05,0.025],[1.09,0.023],[1.32,0.023],[1.83,0.019],[2.02,0.0153],[2.38,0.021],
      [21.2,0.227],[13,0.185],[10.7,0.216],[9.4,0.205],[8.8,0.185],[8.2,0.195],[7.2,0.195],[6.8,0.205],[6.1,0.205],[5.7,0.195],
      [5.2,0.227],[4.9,0.239],[4.3,0.25],[3.75,0.227],[3.4,0.216],[3.1,0.205],[2.8,0.216],[2.6,0.195],[3.9,0.176],[4.1,0.176],
      [5.5,0.176],[6.3,0.185],[9.7,0.176],[11.4,0.195],[11.8,0.159],[4.7,0.13],[5.2,0.13],[3.75,0.123],[2.9,0.13],[2.7,0.106],
      [2.8,0.091],[3.1,0.078],[2.9,0.067],[3.75,0.057],[3.1,0.052],[2.7,0.042],[2.9,0.036],[3.4,0.031],[3.6,0.031],[3.9,0.036],
      [3.9,0.042],[4.0,0.028],[3.9,0.023],[4.0,0.0188],[3.6,0.0161],[2.99,0.015],[4.0,0.0125],[4.4,0.045],[5.1,0.035],[5.1,0.025],
      [5.0,0.031],[6.5,0.084],[7.9,0.03],[10.7,0.045],[2.6,0.151],[2.54,0.074],
      [66.7,6.6],[122,38.9],[37.8,4.75],[31.5,2.77],[32,2.6],[22.7,2.1],[31.5,0.79],[19.6,0.29],[22.7,0.23],[14.1,0.17],
      [1.5,0.6],[1.6,0.75],[1.7,0.9],[1.75,0.55],[1.85,0.65],[1.9,0.8],[2.0,1.1],[2.05,0.7],[2.1,0.45],[2.2,0.95],
      [2.3,1.25],[2.4,0.55],[2.5,0.7],[2.55,1.0],[2.6,0.4],[2.7,0.85],[2.8,1.3],[2.9,0.55],[3.0,0.7],[3.1,0.95],
      [3.2,1.2],[3.3,0.5],[3.4,0.75],[3.5,1.05],[3.6,0.6],[3.7,0.45],[3.8,0.85],[3.9,1.15],[4.0,0.38],[4.2,0.55],
      [4.3,0.9],[4.4,0.7],[4.5,1.1],[4.7,0.48],[4.8,0.62],[5.0,0.85],[5.2,0.35],[5.4,0.55],[5.6,0.75],[5.8,0.3],
      [6.0,0.6],[6.3,0.4],[6.6,0.25],[6.9,0.35],[7.2,0.5],[7.6,0.22],[8.0,0.4],[8.5,0.3],[9.0,0.2],[9.5,0.25],
      [1.1,0.4],[1.2,0.48],[1.3,0.35],[1.35,0.6],[1.45,0.22],[1.55,0.38],[1.65,0.2],[1.8,0.3],[2.0,0.2],[2.2,0.25],
      [2.5,0.2],[2.8,0.3],[3.2,0.22],[3.6,0.3],[4.1,0.2],[4.6,0.3],[1.0,0.13],[1.1,0.1],[1.2,0.075],[1.3,0.05],
      [0.9,0.07],[0.95,0.05],[0.85,0.045],[1.0,0.035],[1.15,0.028],[1.25,0.03],[1.7,0.038],[1.9,0.03],[2.2,0.035],[2.6,0.03],
      [2.4,0.18],[2.7,0.16],[3.0,0.12],[3.4,0.1],[3.8,0.14],[4.3,0.12],[5.0,0.16],[6.0,0.14],[7.0,0.15],[8.5,0.17],
      [10.5,0.2],[11,0.17],[12,0.19],[13,0.2],[6.5,0.9],[7.5,1.1],[8.5,1.2],[9.5,1.4],[10.5,0.9],[12,1.2],
      [1.4,0.8],[1.55,1.0],[1.65,1.3],[1.75,1.1],[1.9,1.4],[2.05,0.9],[2.25,1.6],[2.4,1.1],[2.6,1.45],[2.75,1.2],
      [2.95,1.6],[3.15,1.35],[3.3,1.5],[3.45,1.25],[3.7,1.7],[3.85,1.35],[4.05,1.0],[4.25,1.2],[4.5,0.95],[4.75,1.1],
      [5.1,1.3],[5.3,0.95],[5.7,1.15],[6.1,1.3],[6.4,1.0],[6.9,0.8],[7.3,0.7],[7.8,0.9],[8.4,0.75],[9.2,0.6],
      [1.6,0.45],[1.8,0.5],[2.0,0.6],[2.3,0.7],[2.6,0.8],[2.9,0.9],[3.2,0.8],[3.6,0.95],[4.0,0.75],[4.4,0.6],
      [4.9,0.7],[5.4,0.65],[6.0,0.5],[6.6,0.55],[7.2,0.4],[8.0,0.55],[9.0,0.35],[10,0.3],[11,0.25],[12.5,0.3],
      [1.2,0.25],[1.4,0.3],[1.6,0.35],[1.9,0.4],[2.2,0.33],[2.5,0.28],[2.9,0.35],[3.3,0.4],[3.7,0.33],[4.2,0.4],
      [0.9,0.2],[1.0,0.25],[1.1,0.18],[1.25,0.2],[1.4,0.16],[1.6,0.13],[1.8,0.17],[2.0,0.14],[2.2,0.12],[2.5,0.14],
      [0.45,0.12],[0.55,0.14],[0.65,0.1],[0.7,0.12],[0.8,0.13],[0.9,0.1],[1.0,0.09],[1.1,0.08],[1.2,0.11],[1.3,0.09],
      [0.6,0.075],[0.7,0.055],[0.8,0.06],[0.9,0.045],[1.0,0.055],[1.15,0.06],[1.3,0.065],[1.5,0.055],[1.7,0.07],[1.9,0.06]
    ];
    const nerRcBefore = [[0.204, 0.028], [109, 7.65]];
    const nerRcAfter = [[0.279, 0.0279], [122, 33.4]];
    const nerRcFixedB = [[0.279, 0.102], [122, 22.9]];

    const GRAY = '#c8c8c8';
    const FONT = '"Liberation Sans", Arial, Helvetica, sans-serif';

    const toXY = arr => arr.map(p => ({ x: p[0], y: p[1] }));

    // text made of pieces with their own font and vertical shift (superscripts)
    function drawPieces(ctx, pieces, x, y, align) {
      let total = 0;
      pieces.forEach(p => { ctx.font = p.font; p.w = ctx.measureText(p.text).width; total += p.w; });
      let cx = align === 'center' ? x - total / 2 : (align === 'right' ? x - total : x);
      pieces.forEach(p => { ctx.font = p.font; ctx.fillText(p.text, cx, y + (p.dy || 0)); cx += p.w; });
    }

    // frame, inward ticks, decade labels and titles
    const decorPlugin = {
      id: 'decor',
      afterDraw(chart, args, opts) {
        const { ctx, chartArea: a } = chart;
        const xs = chart.scales.x, ys = chart.scales.y;
        ctx.save();
        ctx.fillStyle = '#000';
        ctx.strokeStyle = '#000';

        ctx.lineWidth = 1;
        ctx.beginPath();
        xTickExps.forEach((e, i) => {
          const last = i === xTickExps.length - 1;
          for (let m = 1; m <= (last ? 1 : 9); m++) {
            const px = Math.round(xs.getPixelForValue(m * Math.pow(10, e))) + 0.5;
            const len = m === 1 ? 7 : 4;
            ctx.moveTo(px, a.bottom); ctx.lineTo(px, a.bottom - len);
            ctx.moveTo(px, a.top); ctx.lineTo(px, a.top + len);
          }
        });
        yTickExps.forEach((e, i) => {
          const last = i === yTickExps.length - 1;
          for (let m = 1; m <= (last ? 1 : 9); m++) {
            const py = Math.round(ys.getPixelForValue(m * Math.pow(10, e))) + 0.5;
            const len = m === 1 ? 7 : 4;
            ctx.moveTo(a.left, py); ctx.lineTo(a.left + len, py);
            ctx.moveTo(a.right, py); ctx.lineTo(a.right - len, py);
          }
        });
        ctx.stroke();

        ctx.lineWidth = 2;
        ctx.strokeRect(a.left, a.top, a.right - a.left, a.bottom - a.top);

        ctx.textBaseline = 'middle';
        ctx.textAlign = 'left';
        xTickExps.forEach(e => {
          const px = xs.getPixelForValue(Math.pow(10, e));
          ctx.font = '18px ' + FONT;
          const w = ctx.measureText('10').width;
          ctx.fillText('10', px - w / 2, a.bottom + 17);
          ctx.font = '11px ' + FONT;
          ctx.fillText(String(e), px + w / 2 + 0.5, a.bottom + 9);
        });
        yTickExps.forEach(e => {
          const py = ys.getPixelForValue(Math.pow(10, e));
          ctx.font = '11px ' + FONT;
          const we = ctx.measureText(String(e)).width;
          ctx.fillText(String(e), a.left - 4 - we, py - 6);
          ctx.font = '18px ' + FONT;
          const w = ctx.measureText('10').width;
          ctx.fillText('10', a.left - 4 - we - 0.5 - w, py + 2);
        });

        // axis titles
        const big = 'bold 31px ' + FONT, sup = 'bold 19px ' + FONT;
        ctx.textBaseline = 'alphabetic';
        drawPieces(ctx, [
          { text: 'Q (m', font: big }, { text: '\u00b2', font: big }, { text: ' s', font: big },
          { text: '-1', font: sup, dy: -12 }, { text: ')', font: big }
        ], (a.left + a.right) / 2 + 10, a.bottom + 58, 'center');

        ctx.save();
        ctx.translate(opts.yTitleX, (a.top + a.bottom) / 2);
        ctx.rotate(-Math.PI / 2);
        ctx.textBaseline = 'middle';
        drawPieces(ctx, [
          { text: 'SSC (g l', font: big }, { text: '-1', font: sup, dy: -12 }, { text: ')', font: big }
        ], 0, 0, 'center');
        ctx.restore();

        // station name
        ctx.font = 'bold 33px ' + FONT;
        ctx.textBaseline = 'alphabetic';
        ctx.fillText(opts.title, a.left + 10, a.top + 38);
        ctx.restore();
      }
    };

    function buildPanel(canvasId, title, before, after, rcBefore, rcAfter, rcFixed, pad, sizes) {
      const datasets = [];
      if (rcFixed) {
        datasets.push({ data: toXY(rcFixed), showLine: true, borderColor: '#000', borderWidth: 2,
                        borderDash: [8, 4], pointRadius: 0, order: 0 });
      }
      datasets.push({ data: toXY(rcAfter), showLine: true, borderColor: '#000', borderWidth: sizes.line,
                      pointRadius: 0, order: 1 });
      datasets.push({ data: toXY(rcBefore), showLine: true, borderColor: GRAY, borderWidth: 2,
                      pointRadius: 0, order: 2 });
      datasets.push({ data: toXY(after), pointRadius: sizes.after, backgroundColor: '#000',
                      borderWidth: 0, order: 3 });
      datasets.push({ data: toXY(before), pointRadius: sizes.before, backgroundColor: GRAY,
                      borderWidth: 0, order: 4 });

      return new Chart(document.getElementById(canvasId), {
        type: 'scatter',
        data: { datasets },
        options: {
          responsive: false,
          animation: false,
          events: [],
          layout: { padding: pad },
          plugins: {
            legend: { display: false },
            tooltip: { enabled: false },
            decor: { title: title, yTitleX: 35 }
          },
          scales: {
            x: { type: 'logarithmic', min: 0.1, max: 1000, display: false },
            y: { type: 'logarithmic', min: 0.0001, max: 100, display: false }
          }
        },
        plugins: [decorPlugin]
      });
    }

    buildPanel('cLeft', panelNames[0], tulBefore, tulAfter, tulRcBefore, tulRcAfter, null,
               { left: 90, right: 30, top: 19, bottom: 114 }, { before: 1.7, after: 2.5, line: 3 });
    buildPanel('cRight', panelNames[1], nerBefore, nerAfter, nerRcBefore, nerRcAfter, nerRcFixedB,
               { left: 95, right: 20, top: 17, bottom: 116 }, { before: 1.7, after: 1.7, line: 2.5 });

    // legend row
    const legendPos = [
      { mark: 'dot', color: GRAY, size: 4, mx: 66, tx: 75 },
      { mark: 'dot', color: '#000', size: 5, mx: 308, tx: 316 },
      { mark: 'line', color: GRAY, mx: 538, w: 24, tx: 577 },
      { mark: 'line', color: '#000', mx: 742, w: 24, tx: 780 },
      { mark: 'dash', color: '#000', mx: 930, w: 25, tx: 969 }
    ];
    const legend = document.getElementById('legend');
    legendPos.forEach((item, i) => {
      const m = document.createElement('div');
      m.className = 'lg-mark';
      if (item.mark === 'dot') {
        m.style.cssText = `left:${item.mx - item.size / 2}px;top:${572 - item.size / 2}px;width:${item.size}px;height:${item.size}px;border-radius:50%;background:${item.color}`;
      } else {
        const style = item.mark === 'dash' ? 'dashed' : 'solid';
        m.style.cssText = `left:${item.mx}px;top:570px;width:${item.w}px;height:0;border-top:2px ${style} ${item.color}`;
      }
      legend.appendChild(m);
      const t = document.createElement('div');
      t.className = 'lg-text';
      t.style.left = item.tx + 'px';
      t.textContent = legendLabels[i];
      legend.appendChild(t);
    });
  </script>

</body>
</html>
